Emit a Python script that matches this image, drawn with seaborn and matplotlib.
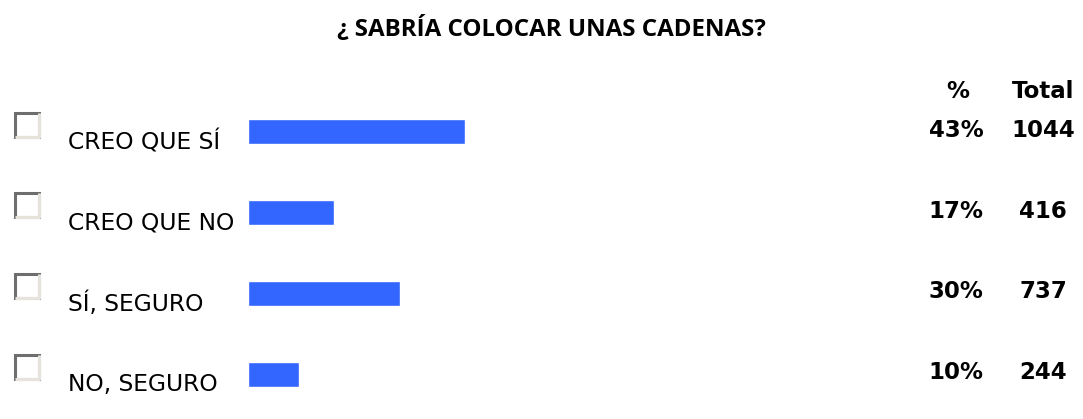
import matplotlib
matplotlib.use("Agg")
import matplotlib.pyplot as plt
import matplotlib.transforms as mtransforms
from matplotlib.patches import Rectangle
import pandas as pd
import seaborn as sns

# poll data
options = ["CREO QUE SÍ", "CREO QUE NO", "SÍ, SEGURO", "NO, SEGURO"]
percent = [43, 17, 30, 10]
totals = [1044, 416, 737, 244]

df = pd.DataFrame({"opcion": options, "pct": percent, "total": totals})

sns.set_theme(style="white")
plt.rcParams["font.family"] = ["DejaVu Sans"]

W, H = 1083, 419
fig = plt.figure(figsize=(W / 100, H / 100), dpi=100)
ax = fig.add_axes([248 / W, 1 - 414.35 / H, 505 / W, 322.7 / H])

sns.barplot(data=df, y="opcion", x="pct", orient="h", color="#3366ff",
            saturation=1, width=0.31, ax=ax, order=options)
ax.set_xlim(0, 100)
ax.set_ylim(3.5, -0.5)
ax.axis("off")

trans = mtransforms.blended_transform_factory(fig.transFigure, ax.transData)

for i, row in df.iterrows():
    # checkbox
    box_h = 24 / 80.7
    y0 = i - 0.09 - box_h / 2
    ax.add_patch(Rectangle((15 / W, y0), 24 / W, box_h, transform=trans,
                           facecolor="white", edgecolor="#6e6e6e", lw=2.2, clip_on=False))
    ax.plot([15 / W, 39 / W, 39 / W], [y0 + box_h, y0 + box_h, y0], transform=trans,
            color="#e6e3dc", lw=2.2, clip_on=False, solid_capstyle="butt")
    ax.text(68 / W, i + 0.13, row["opcion"], transform=trans, fontsize=16.8,
            va="center", ha="left", color="black", clip_on=False)
    ax.text(956 / W, i - 0.02, f"{row['pct']}%", transform=trans, fontsize=16.5,
            fontweight="bold", va="center", ha="center", color="black", clip_on=False)
    ax.text(1043 / W, i - 0.02, f"{row['total']}", transform=trans, fontsize=16.5,
            fontweight="bold", va="center", ha="center", color="black", clip_on=False)

ax.text(958 / W, -0.5, "%", transform=trans, fontsize=16.5, fontweight="bold",
        va="center", ha="center", color="black", clip_on=False)
ax.text(1043 / W, -0.5, "Total", transform=trans, fontsize=16.5, fontweight="bold",
        va="center", ha="center", color="black", clip_on=False)

fig.text(551 / W, 1 - 29 / H, "¿ SABRÍA COLOCAR UNAS CADENAS?", fontsize=17.4,
         fontweight="bold", family=["Open Sans", "DejaVu Sans"], ha="center", va="center",
         color="black")

fig.savefig("out.png", dpi=100)
